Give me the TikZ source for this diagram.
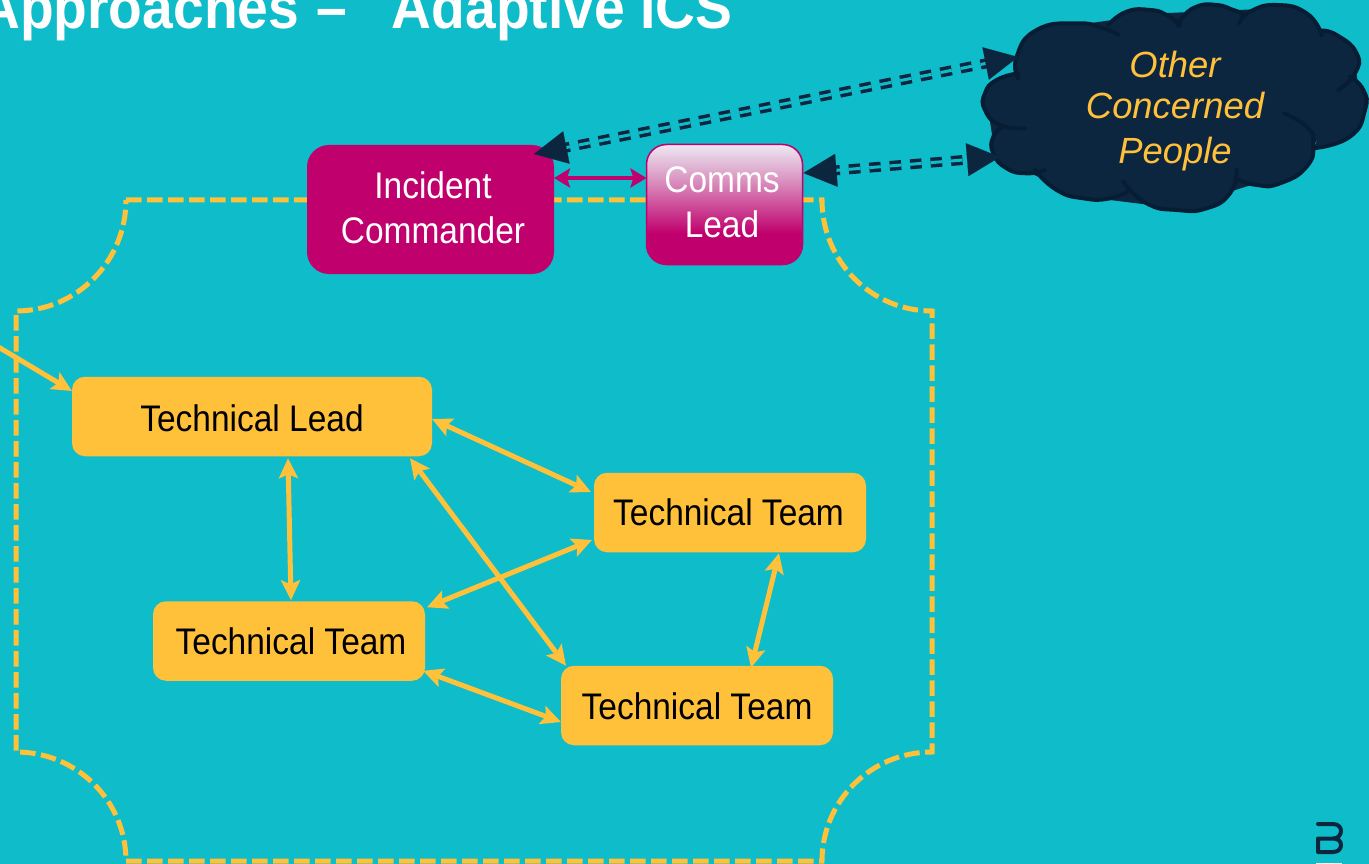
\documentclass[tikz,border=0pt]{standalone}
\usepackage{fontspec}
\setmainfont[FakeStretch=0.905]{Liberation Sans}
\newfontfamily\cloudfont{Liberation Sans}
\newfontfamily\titlefont[FakeStretch=0.92]{Liberation Sans}
\usetikzlibrary{arrows.meta,calc}
\definecolor{bgteal}{HTML}{0FBCC9}
\definecolor{amber}{HTML}{FFC03A}
\definecolor{magent}{HTML}{C0006D}
\definecolor{navy}{HTML}{0D2640}
\definecolor{navyedge}{HTML}{071D33}
\pgfdeclareverticalshading{commsgrad}{100bp}{rgb(0bp)=(0.753,0,0.427);rgb(38bp)=(0.753,0,0.427);rgb(62bp)=(0.86,0.62,0.78);rgb(75bp)=(0.93,0.91,0.95);rgb(100bp)=(0.93,0.91,0.95)}
\newcommand{\onbase}[3]{\hspace*{#1}\raisebox{-#2}[0pt][0pt]{#3}}
\newcommand{\twolines}[2]{\begin{tabular}{@{}c@{}}#1\\#2\end{tabular}}
\tikzset{
  x=1pt,y=-1pt,
  label font/.style={font=\fontsize{37}{45}\selectfont,align=center,inner sep=0pt,outer sep=0pt},
  amberbox/.style={label font,fill=amber,text=black,rounded corners=13pt,minimum height=79.5pt},
  amberlink/.style={draw=amber,line width=5pt,{Stealth[length=20pt,width=19pt,inset=4pt]}-{Stealth[length=20pt,width=19pt,inset=4pt]}},
  amberone/.style={draw=amber,line width=5pt,-{Stealth[length=20pt,width=19pt,inset=4pt]}},
  maglink/.style={draw=magent,line width=4.5pt,{Stealth[length=16pt,width=19pt,inset=3pt]}-{Stealth[length=16pt,width=19pt,inset=3pt]}},
  plaque/.style={draw=amber,line width=5pt,dash pattern=on 15.5pt off 5.5pt},
  dbldash/.style={draw=navy,line width=3.5pt,double=bgteal,double distance=3pt,dash pattern=on 11.5pt off 9pt},
  navytip/.style={draw=navy,line width=0.1pt,-{Triangle[length=33pt,width=33pt,fill=navy]}},
  lobe/.style={draw=navyedge,line width=4pt,line cap=round},
}
\newcommand{\onelobe}[1]{\lobeop plot[smooth,tension=0.9] coordinates {#1};}
\newcommand{\alllobes}{%
  \onelobe{(175,235)(170,170)(230,90)(350,70)(430,85)(475,105)}
  \onelobe{(445,75)(500,35)(570,30)(620,45)(660,75)}
  \onelobe{(655,78)(665,55)(710,20)(770,15)(820,30)(858,45)}
  \onelobe{(838,70)(870,35)(950,15)(1040,40)(1085,105)}
  \onelobe{(1080,92)(1130,105)(1190,160)(1185,220)(1135,270)}
  \onelobe{(1170,230)(1210,270)(1215,330)(1170,410)(1060,445)}
  \onelobe{(972,340)(1040,380)(1060,430)(1040,500)(960,550)(890,555)(825,535)}
  \onelobe{(830,510)(810,580)(740,625)(650,630)(560,610)(490,545)}
  \onelobe{(510,570)(450,595)(370,595)(290,570)(225,510)}
  \onelobe{(255,510)(200,520)(140,505)(100,460)(100,410)(130,380)}
  \onelobe{(195,385)(120,375)(75,330)(75,280)(110,240)(175,220)}}
\begin{document}
\begin{tikzpicture}
\useasboundingbox (0,0) rectangle (1369,864);
\fill[bgteal] (0,0) rectangle (1369,864);
% title
\node[anchor=base west,inner sep=0pt,text=white,font=\titlefont\fontsize{60}{66}\selectfont\bfseries] (title) at (-20,29) {Approaches\hspace{17pt}–\hspace{45pt}Adaptive ICS};
% dashed plaque
\draw[plaque] (126,200) -- (822,200)
  .. controls (822,261) and (871,311) .. (932,311)
  -- (932,752)
  .. controls (871,752) and (822,801) .. (822,861)
  -- (126,861)
  .. controls (126,801) and (77,752) .. (16,752)
  -- (16,311)
  .. controls (77,311) and (126,261) .. (126,200);
% cloud
\begin{scope}[shift={(960,0)},x=0.3333pt,y=-0.3333pt]
  \fill[navy] (175,230) -- (350,75) -- (600,40) -- (950,25) -- (1180,160) -- (1205,320) -- (1050,440) -- (890,550) -- (650,625) -- (370,590) -- (200,515) -- (100,430) -- (80,300) -- cycle;
  \def\lobeop{\fill[navy]}\alllobes
  \def\lobeop{\draw[lobe]}\alllobes
\end{scope}
\node[inner sep=0pt,text=amber,align=center,font=\cloudfont\itshape\fontsize{36.4}{45}\selectfont] (cloud) at (1175,111) {Other\\[-4pt]Concerned\\People};
% boxes
\node[label font,fill=magent,text=white,rounded corners=22pt,minimum width=247pt,minimum height=129pt] (ic) at (430.5,209.5) {\onbase{5pt}{8.7pt}{\twolines{Incident}{Commander}}};
\node[label font,shading=commsgrad,draw=magent,line width=1.5pt,text=white,rounded corners=20pt,minimum width=156pt,minimum height=120pt] (comms) at (724.5,204.5) {\onbase{-5pt}{8.2pt}{\twolines{Comms}{Lead}}};
\node[amberbox,minimum width=360pt] (tl) at (252,416.5) {\onbase{0pt}{14.5pt}{Technical Lead}};
\node[amberbox,minimum width=272pt] (tt1) at (730,512.5) {\onbase{-3pt}{12.5pt}{Technical Team}};
\node[amberbox,minimum width=272pt] (tt2) at (289,641) {\onbase{4pt}{13.5pt}{Technical Team}};
\node[amberbox,minimum width=272pt] (tt3) at (697,705.5) {\onbase{0pt}{13.5pt}{Technical Team}};
% amber connectors
\coordinate (offpage) at (-5,345);
\draw[amberone] (offpage) -- ($(tl.west)+(0,-25.5)$);
\draw[amberlink] ($(tl.east)+(0,2.5)$) -- ($(tt1.west)+(-3,-20.5)$);
\draw[amberlink] ($(tl.south east)+(-22,2)$) -- ($(tt3.north west)+(5,0)$);
\draw[amberlink] ($(tl.south)+(36,2)$) -- ($(tt2.north)+(2,-1)$);
\draw[amberlink] ($(tt2.north east)+(2,6)$) -- ($(tt1.west)+(-2,27.5)$);
\draw[amberlink] ($(tt2.south east)+(-2,-10)$) -- ($(tt3.west)+(0,16.5)$);
\draw[amberlink] ($(tt1.south)+(49,1)$) -- ($(tt3.north)+(54,2)$);
% magenta connector
\draw[maglink] ($(ic.east)+(0,-31.5)$) -- ($(comms.west)+(0,-26.5)$);
% navy double-dashed connectors
\coordinate (icEnd) at ($(ic.north east)+(-20,9)$);
\coordinate (cloudA) at ($(cloud.center)+(-157,-54)$);
\coordinate (commsEnd) at ($(comms.east)+(1,-31.5)$);
\coordinate (cloudB) at ($(cloud.center)+(-175,46)$);
\draw[dbldash] ($(icEnd)!25pt!(cloudA)$) -- ($(cloudA)!25pt!(icEnd)$);
\draw[dbldash] ($(commsEnd)!25pt!(cloudB)$) -- ($(cloudB)!25pt!(commsEnd)$);
\draw[navytip] ($(icEnd)!33pt!(cloudA)$) -- (icEnd);
\draw[navytip] ($(cloudA)!33pt!(icEnd)$) -- (cloudA);
\draw[navytip] ($(commsEnd)!33pt!(cloudB)$) -- (commsEnd);
\draw[navytip] ($(cloudB)!33pt!(commsEnd)$) -- (cloudB);
% logo
\draw[navy,line width=4pt,line cap=round,line join=round]
  (1318,824) -- (1333,824) .. controls (1339,824) and (1341,828) .. (1341,831) .. controls (1341,835) and (1338,838.5) .. (1333,838.5) -- (1318,838.5) -- (1318,852) -- (1333,852) .. controls (1338,852) and (1341,849) .. (1341,845) .. controls (1341,841) and (1338,838.5) .. (1333,838.5);
\fill[white] (1316,862.5) rectangle (1342,864);
\end{tikzpicture}
\end{document}
